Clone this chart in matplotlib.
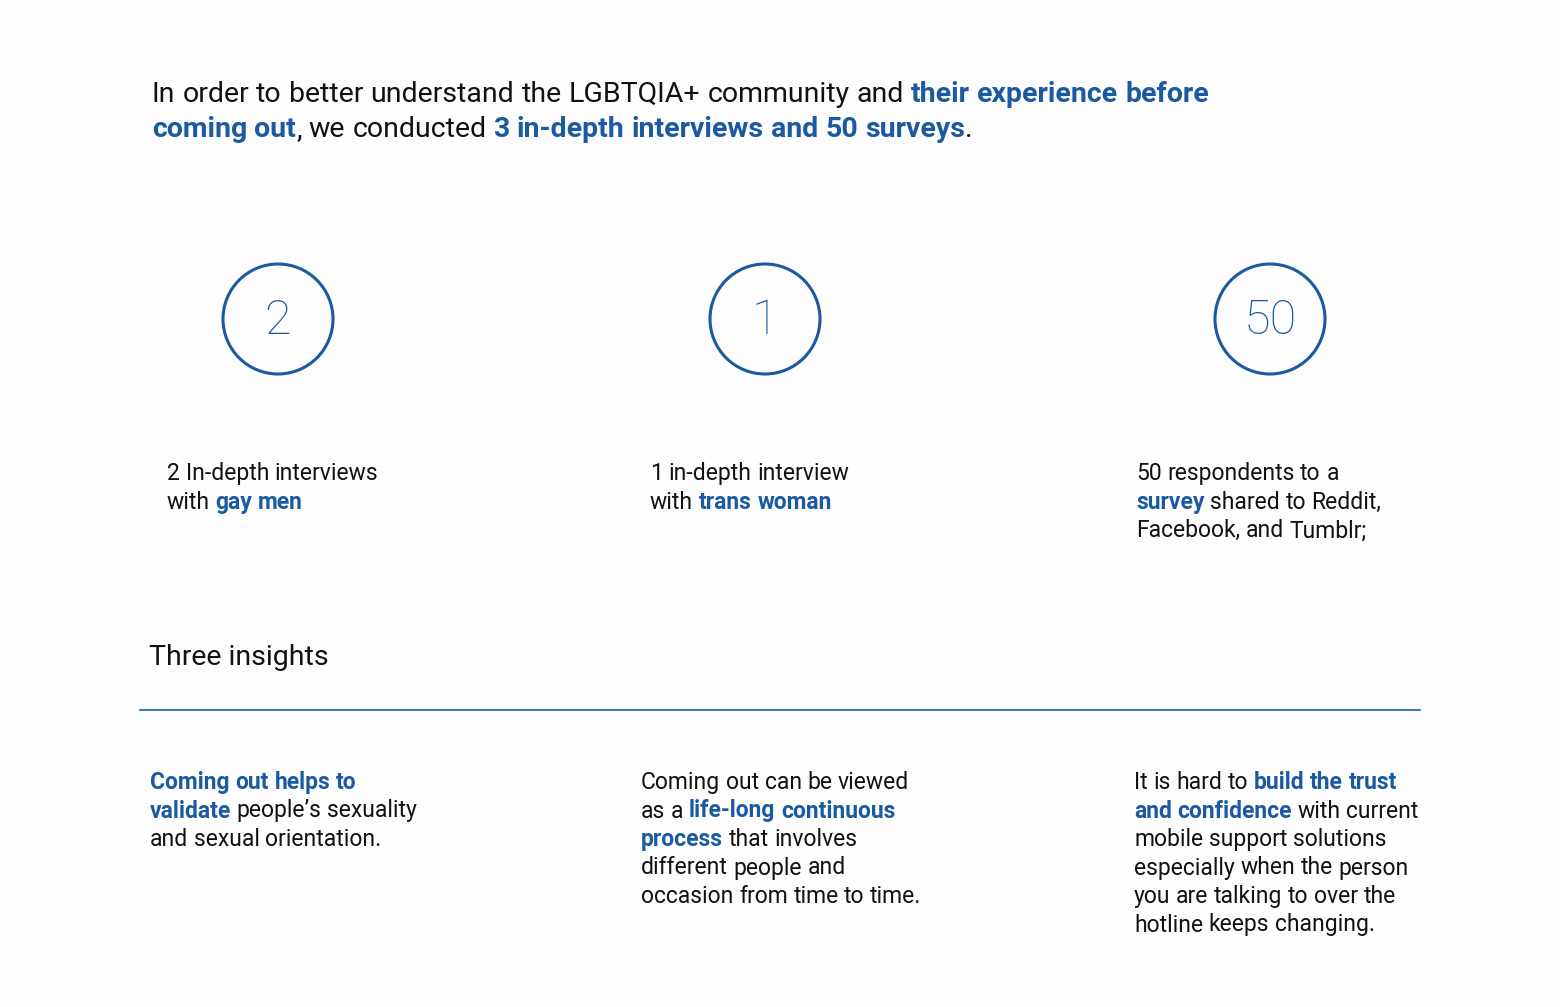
import matplotlib
matplotlib.use("Agg")
import matplotlib.pyplot as plt
from matplotlib.patches import Circle

BLUE = "#1b5aa0"
DARK = "#111111"
FONT = "Roboto"

counts = ["2", "1", "50"]
count_x = [278, 765, 1270]

title_lines = [
    [("In order to better understand the LGBTQIA+ community and ", False), ("their experience before", True)],
    [("coming out", True), (", we conducted ", False), ("3 in-depth interviews and 50 surveys", True), (".", False)],
]
stat_x = [167, 650, 1136]
stat_lines = [
    [[("2 In-depth interviews", False)], [("with ", False), ("gay men", True)]],
    [[("1 in-depth interview", False)], [("with ", False), ("trans woman", True)]],
    [[("50 respondents to a", False)], [("survey", True), (" shared to Reddit,", False)], [("Facebook, and Tumblr;", False)]],
]
insight_x = [150, 641, 1134]
insight_lines = [
    [[("Coming out helps to", True)], [("validate", True), (" people\u2019s sexuality", False)], [("and sexual orientation.", False)]],
    [[("Coming out can be viewed", False)], [("as a ", False), ("life-long continuous", True)],
     [("process", True), (" that involves", False)], [("different people and", False)], [("occasion from time to time.", False)]],
    [[("It is hard to ", False), ("build the trust", True)], [("and confidence", True), (" with current", False)],
     [("mobile support solutions", False)], [("especially when the person", False)],
     [("you are talking to over the", False)], [("hotline keeps changing.", False)]],
]

fig = plt.figure(figsize=(15.6, 10.07), dpi=100)
fig.patch.set_facecolor("#fdfdfd")
ax = fig.add_axes([0, 0, 1, 1])
ax.set_xlim(0, 1560); ax.set_ylim(1007, 0); ax.axis("off")
r = fig.canvas.get_renderer()

def width(s, size, bold):
    t = ax.text(0, 0, s, fontsize=size, family=FONT, fontweight="bold" if bold else "normal")
    w = t.get_window_extent(r).width
    t.remove()
    return w

def draw_lines(x0, y0, lines, size, lh):
    for i, line in enumerate(lines):
        x = x0; y = y0 + i * lh
        for seg, bold in line:
            words = seg.split(" ")
            sp = width("x x", size, bold) - width("xx", size, bold)
            for j, w in enumerate(words):
                if w:
                    ax.text(x, y, w, fontsize=size, family=FONT, va="baseline", ha="left",
                            fontweight="bold" if bold else "normal", color=BLUE if bold else DARK)
                    x += width(w, size, bold)
                if j < len(words) - 1:
                    x += sp

draw_lines(152, 102, title_lines, 20.5, 35)
for c, cx in zip(counts, count_x):
    ax.add_patch(Circle((cx, 319), 55, fill=False, ec=BLUE, lw=2.2))
    ax.text(cx, 321, c, fontsize=35, family=FONT, fontweight="light", color=BLUE, ha="center", va="center")
for x, ls in zip(stat_x, stat_lines):
    draw_lines(x, 480, ls, 16.5, 28.7)
ax.text(149, 665, "Three insights", fontsize=20.5, family=FONT, color=DARK, va="baseline")
ax.plot([140, 1420], [710, 710], color=BLUE, lw=1.2)
for x, ls in zip(insight_x, insight_lines):
    draw_lines(x, 789, ls, 16.5, 28.5)

fig.savefig("out.png", dpi=100, facecolor=fig.get_facecolor())
